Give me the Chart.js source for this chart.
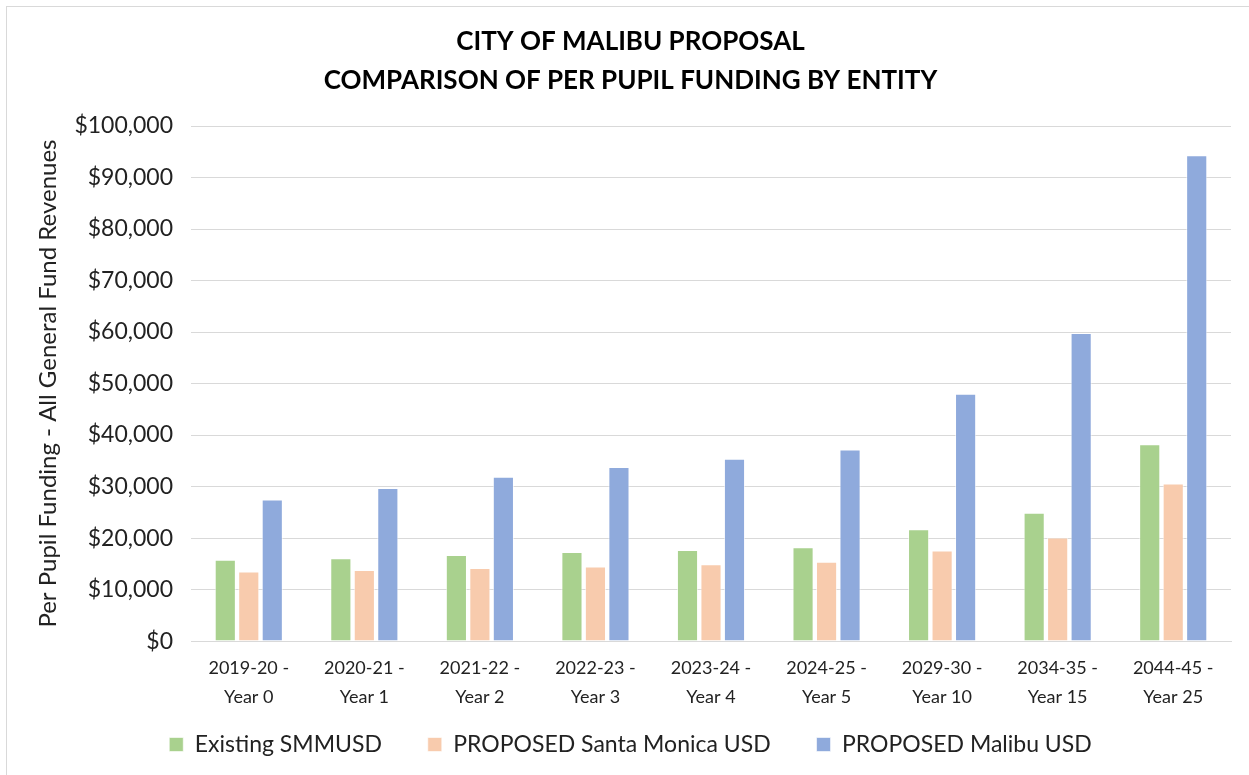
<!DOCTYPE html>
<html>
<head>
<meta charset="utf-8">
<script src="https://cdn.jsdelivr.net/npm/chart.js@4.4.1/dist/chart.umd.min.js"></script>
<style>
    html, body { margin: 0; padding: 0; background: #fff; }
    #wrap { position: relative; width: 1249px; height: 775px; overflow: hidden; }
    #frame { position: absolute; left: 6px; top: 6px; width: 1260px; height: 790px; border: 1px solid #d9d9d9; box-sizing: border-box; }
    #chart { position: absolute; left: 0; top: 0; }
</style>
</head>
<body>
<div id="wrap">
    <div id="frame"></div>
    <canvas id="chart" width="1249" height="775"></canvas>
</div>
<script>
// chart data
const categories = [
    ['2019-20 -', 'Year 0'], ['2020-21 -', 'Year 1'], ['2021-22 -', 'Year 2'],
    ['2022-23 -', 'Year 3'], ['2023-24 -', 'Year 4'], ['2024-25 -', 'Year 5'],
    ['2029-30 -', 'Year 10'], ['2034-35 -', 'Year 15'], ['2044-45 -', 'Year 25']
]
const existingSmmusd = [15800, 16100, 16700, 17300, 17700, 18200, 21700, 24900, 38200]
const proposedSantaMonica = [13500, 13800, 14200, 14500, 14900, 15400, 17600, 20100, 30600]
const proposedMalibu = [27500, 29700, 31900, 33800, 35400, 37200, 48000, 59800, 94300]
const seriesNames = ['Existing SMMUSD', 'PROPOSED Santa Monica USD', 'PROPOSED Malibu USD']
const yMax = 100000
const yStep = 10000

const FONT = 'Lato, "Open Sans", sans-serif'
const TEXT = '#222'

const money = v => '$' + v.toLocaleString('en-US')

// legend items sit further apart sideways than vertically, so pad the text a bit
const legendLabels = chart => {
    const items = Chart.defaults.plugins.legend.labels.generateLabels(chart)
    items.forEach((it, i) => {
        if (i < items.length - 1) it.text = it.text + '\u2002\u2002\u2002\u2009'
    })
    return items
}

const ctx = document.getElementById('chart').getContext('2d')
const chart = new Chart(ctx, {
    type: 'bar',
    data: {
        labels: categories,
        datasets: [
            { label: seriesNames[0], data: existingSmmusd, backgroundColor: '#a9d18e' },
            { label: seriesNames[1], data: proposedSantaMonica, backgroundColor: '#f8cbad' },
            { label: seriesNames[2], data: proposedMalibu, backgroundColor: '#8faadc' }
        ].map(d => Object.assign(d, {
            borderColor: 'rgba(255,255,255,0.6)',
            borderWidth: 1,
            categoryPercentage: 0.61,
            barPercentage: 0.9
        }))
    },
    options: {
        responsive: false,
        animation: false,
        layout: { padding: { left: 30, right: 18, top: 10, bottom: 9 } },
        scales: {
            x: {
                grid: { display: false, drawTicks: false },
                border: { display: true, color: '#d9d9d9', width: 1 },
                ticks: {
                    color: TEXT,
                    font: { family: FONT, size: 18, lineHeight: 1.65 },
                    maxRotation: 0,
                    padding: 12
                }
            },
            y: {
                min: 0,
                max: yMax,
                afterFit: s => { s.width = 161 },
                grid: { color: '#d9d9d9', lineWidth: 1, drawTicks: false },
                border: { display: false },
                ticks: {
                    stepSize: yStep,
                    color: TEXT,
                    font: { family: FONT, size: 23 },
                    padding: 18,
                    callback: v => money(v)
                },
                title: {
                    display: true,
                    text: 'Per Pupil Funding - All General Fund Revenues',
                    color: TEXT,
                    font: { family: FONT, size: 24 },
                    padding: { top: 4, bottom: 0 }
                }
            }
        },
        plugins: {
            title: {
                display: true,
                text: ['CITY OF MALIBU PROPOSAL', 'COMPARISON OF PER PUPIL FUNDING BY ENTITY'],
                color: '#000',
                font: { family: FONT, size: 26, weight: 'bold', lineHeight: 1.5 },
                padding: { top: 12, bottom: 26 }
            },
            legend: {
                position: 'bottom',
                labels: {
                    color: TEXT,
                    font: { family: FONT, size: 23 },
                    boxWidth: 14,
                    boxHeight: 14,
                    padding: 8.5,
                    generateLabels: legendLabels
                }
            },
            tooltip: { enabled: false }
        }
    }
})
</script>
</body>
</html>
